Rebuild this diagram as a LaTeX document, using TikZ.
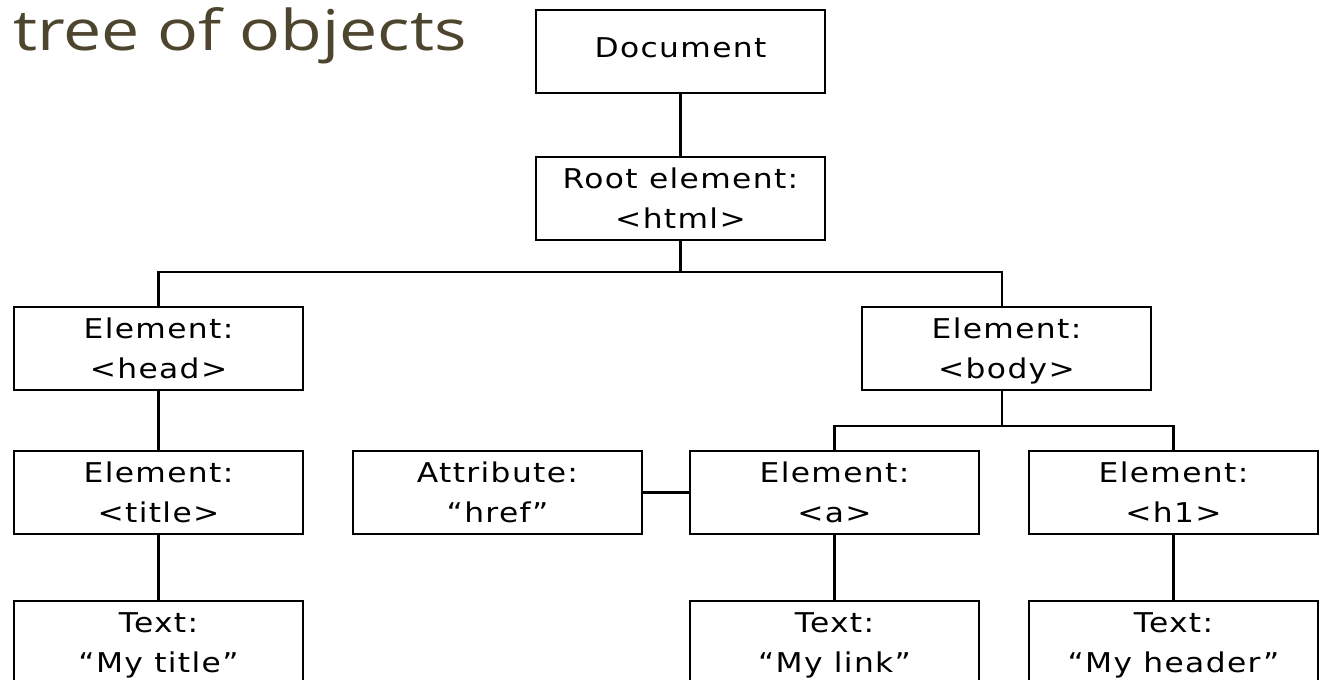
\documentclass[tikz,border=0pt]{standalone}
\usepackage{fontspec}
\setmainfont{DejaVu Sans}
\newfontfamily\boxfont{DejaVu Sans}[LetterSpace=5, FakeStretch=1.15]
\newfontfamily\headfont{Open Sans}[FakeStretch=1.21]
\usetikzlibrary{positioning}
\definecolor{headcol}{RGB}{77,69,46}

\begin{document}
\begin{tikzpicture}[
            x=0.02cm, y=-0.02cm,
            block/.style={rectangle, draw, line width=1.1pt, minimum width=5.78cm, minimum height=1.66cm, align=center, inner sep=0pt, text depth=0pt, font=\boxfont\fontsize{15.5}{22.8}\selectfont},
            link/.style={line width=1.2pt}
        ]
            \useasboundingbox (0,0) rectangle (1320,680);
            \clip (0,0) rectangle (1320,680);
            \fill[white] (0,0) rectangle (1320,680);

            \node[anchor=base west, text=headcol, inner sep=0pt, font=\headfont\fontsize{32}{38}\selectfont] (head title) at (13,50) {tree of objects};

            \node[block, text depth=4pt] (doc) at (680.5,51.5) {Document};
            \node[block] (root) at (680.5,198.5) {Root element:\\<html>};
            \node[block] (head) at (158.5,348.5) {Element:\\<head>};
            \node[block] (body) at (1006.5,348.5) {Element:\\<body>};
            \node[block] (title) at (158.5,492.5) {Element:\\<title>};
            \node[block] (attr) at (497.5,492.5) {Attribute:\\“href”};
            \node[block] (a) at (834.5,492.5) {Element:\\<a>};
            \node[block] (h1) at (1173.5,492.5) {Element:\\<h1>};
            \node[block] (txt title) at (158.5,642.5) {Text:\\“My title”};
            \node[block] (txt link) at (834.5,642.5) {Text:\\“My link”};
            \node[block] (txt header) at (1173.5,642.5) {Text:\\“My header”};

            \draw[link] (doc) -- (root);
            \draw[link] (root.south) -- ++(0,31) coordinate (bus1);
            \draw[link] (head.north) |- (bus1) -| ([xshift=-2.8pt]body.north);
            \draw[link] ([xshift=-2.8pt]body.south) -- ++(0,35) coordinate (bus2);
            \draw[link] (a.north) |- (bus2) -| (h1.north);
            \draw[link] (attr) -- (a);
            \draw[link] (head) -- (title);
            \draw[link] (title) -- (txt title);
            \draw[link] (a) -- (txt link);
            \draw[link] (h1) -- (txt header);
        \end{tikzpicture}
\end{document}
